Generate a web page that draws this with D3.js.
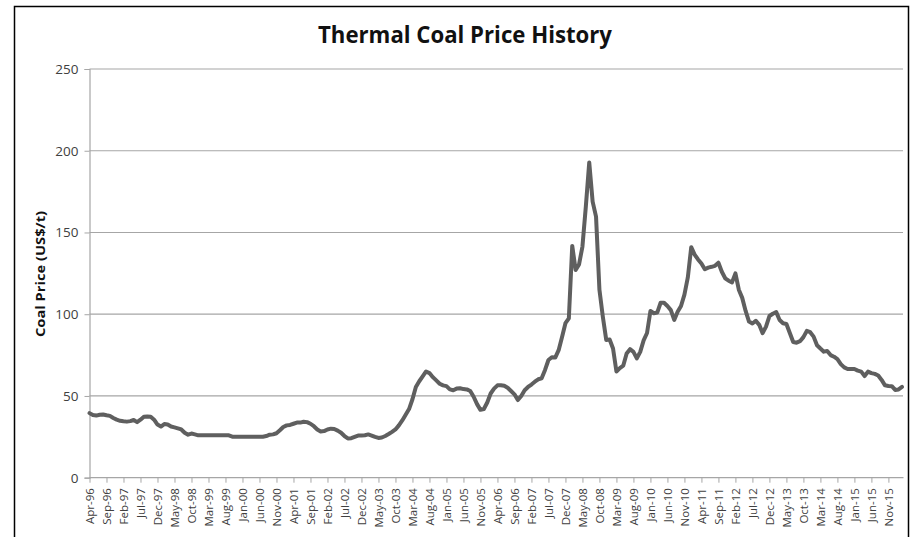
<!DOCTYPE html>
<html>
<head>
<meta charset="utf-8">
<script src="https://cdn.jsdelivr.net/npm/d3@7"></script>
<style>
  body { margin: 0; background: #fff; }
  svg { display: block; }
</style>
</head>
<body>
<div id="chart-area"></div>
<script>
// monthly thermal coal price, Apr-96 .. Mar-16 (US$/t)
var prices = [
  39.5, 38.3, 38, 38.5, 38.7, 38.2, 37.8, 36.5, 35.5, 34.8, 34.5, 34.3,
  34.6, 35.3, 34, 35.5, 37.3, 37.5, 37.3, 35.5, 32.5, 31.3, 32.8, 32.5,
  31.3, 30.8, 30.2, 29.5, 27.5, 26.3, 27, 26.5, 25.9, 25.9, 25.9, 25.9,
  25.9, 25.9, 25.9, 25.9, 25.9, 25.9, 25.1, 25.1, 25.1, 25.1, 25.1, 25.1,
  25.1, 25.1, 25.1, 25.1, 25.5, 26.3, 26.5, 27.2, 29, 31, 32, 32.3,
  33, 33.7, 33.7, 34.2, 34, 33, 31.5, 29.5, 28.3, 28.5, 29.5, 30,
  29.8, 28.8, 27.5, 25.5, 24, 24.2, 25, 25.8, 25.8, 26, 26.5, 25.8,
  25, 24.3, 24.6, 25.5, 26.7, 28, 29.5, 32, 35, 38.5, 42, 48,
  55.5, 59, 62, 65, 64, 61.5, 59.5, 57.5, 56.5, 56, 54, 53.5,
  54.5, 54.7, 54.2, 54, 53, 49.5, 45, 41.5, 42, 46, 51.5, 54.5,
  56.5, 56.5, 56.2, 55, 53, 51, 47.5, 50, 53.5, 55.5, 57, 58.7,
  60.2, 60.8, 65.9, 72, 73.7, 73.5, 78, 86, 94.5, 97.5, 141.8, 127,
  130.5, 141.4, 165.9, 192.8, 168.9, 159.7, 114.9, 98.5, 84.3, 84.5, 79, 65,
  67, 68.5, 76, 78.6, 77, 73, 77, 84, 88.5, 102, 100.6, 101,
  107, 107, 105, 102.5, 96.5, 101.5, 105, 112, 122.5, 141, 136.5, 133.5,
  131, 127.5, 128.5, 129, 129.6, 131.5, 126, 122, 120.5, 119.5, 125, 115,
  110, 102, 95.5, 94.3, 96, 93.5, 88.4, 92.4, 98.9, 100.3, 101.3, 96.5,
  94.5, 94, 88.5, 83, 82.6, 83.5, 86, 89.8, 89, 86.3, 81, 79,
  77.1, 77.5, 75, 74, 72.5, 69.5, 67.5, 66.5, 66.5, 66.5, 65.5, 64.9,
  62.2, 64.9, 64, 63.5, 62.5, 59.8, 56.5, 56.1, 56, 53.7, 54, 55.5
];

var fmt = d3.timeFormat("%b-%y");
var months = d3.timeMonth.range(new Date(1996, 3, 1), new Date(2016, 3, 1)).map(fmt);
var yTicks = [0, 50, 100, 150, 200, 250];
var title = "Thermal Coal Price History";
var yTitle = "Coal Price (US$/t)";

var data = months.map((m, i) => ({ month: m, price: prices[i] }));

var width = 911, height = 537;
var plot = { left: 89.5, right: 902, top: 69, bottom: 477.7 };

var svg = d3.select("#chart-area")
  .append("svg")
  .attr("width", width)
  .attr("height", height);

// frame
svg.append("path")
  .attr("d", `M14.5,${height} V6.5 H908.5 V${height}`)
  .attr("fill", "none")
  .attr("stroke", "#000")
  .attr("stroke-width", 1.5);

var x = d3.scalePoint()
  .domain(months)
  .range([plot.left, plot.right]);

var y = d3.scaleLinear()
  .domain([0, 250])
  .range([plot.bottom, plot.top]);

// gridlines
svg.append("g")
  .selectAll("line")
  .data(yTicks.slice(1))
  .enter().append("line")
  .attr("x1", plot.left)
  .attr("x2", plot.right + 1)
  .attr("y1", d => y(d))
  .attr("y2", d => y(d))
  .attr("stroke", "#a6a6a6")
  .attr("stroke-width", 1.2);

// y axis
var yAxis = svg.append("g")
  .attr("transform", `translate(${plot.left},0)`)
  .call(d3.axisLeft(y).tickValues(yTicks).tickSize(5).tickPadding(6));
yAxis.select(".domain").attr("stroke", "#a6a6a6").attr("stroke-width", 1.2);
yAxis.selectAll(".tick line").attr("stroke", "#a6a6a6");
yAxis.selectAll("text")
  .attr("font-family", "Open Sans")
  .attr("font-size", "13.5px")
  .attr("fill", "#404040");

// x axis
var xAxis = svg.append("g")
  .attr("transform", `translate(0,${plot.bottom})`)
  .call(d3.axisBottom(x)
    .tickValues(months.filter((m, i) => i % 5 === 0))
    .tickSize(5)
    .tickSizeOuter(0));
xAxis.select(".domain").attr("stroke", "#a6a6a6").attr("stroke-width", 1.2)
  .attr("d", `M${plot.left},0H${plot.right + 1.5}`);
xAxis.selectAll(".tick line").attr("stroke", "#a6a6a6");
xAxis.selectAll("text")
  .attr("font-family", "Open Sans")
  .attr("font-size", "11.5px")
  .attr("fill", "#404040")
  .attr("text-anchor", "end")
  .attr("transform", "rotate(-90)")
  .attr("x", -10.5)
  .attr("y", 0)
  .attr("dy", "0.35em");

// line
var line = d3.line()
  .x(d => x(d.month))
  .y(d => y(d.price));

svg.append("path")
  .datum(data)
  .attr("d", line)
  .attr("fill", "none")
  .attr("stroke", "#5f5f5f")
  .attr("stroke-width", 4)
  .attr("stroke-linejoin", "round")
  .attr("stroke-linecap", "round");

// title
svg.append("text")
  .attr("x", 465)
  .attr("y", 43)
  .attr("text-anchor", "middle")
  .attr("font-family", "Open Sans")
  .attr("font-weight", "bold")
  .attr("font-size", "24px")
  .attr("textLength", 294)
  .attr("lengthAdjust", "spacingAndGlyphs")
  .attr("fill", "#111")
  .text(title);

// y axis title
svg.append("text")
  .attr("transform", "translate(44.5,274) rotate(-90)")
  .attr("text-anchor", "middle")
  .attr("font-family", "Open Sans")
  .attr("font-weight", "bold")
  .attr("font-size", "12.5px")
  .attr("textLength", 126)
  .attr("lengthAdjust", "spacingAndGlyphs")
  .attr("fill", "#111")
  .text(yTitle);
</script>
</body>
</html>
